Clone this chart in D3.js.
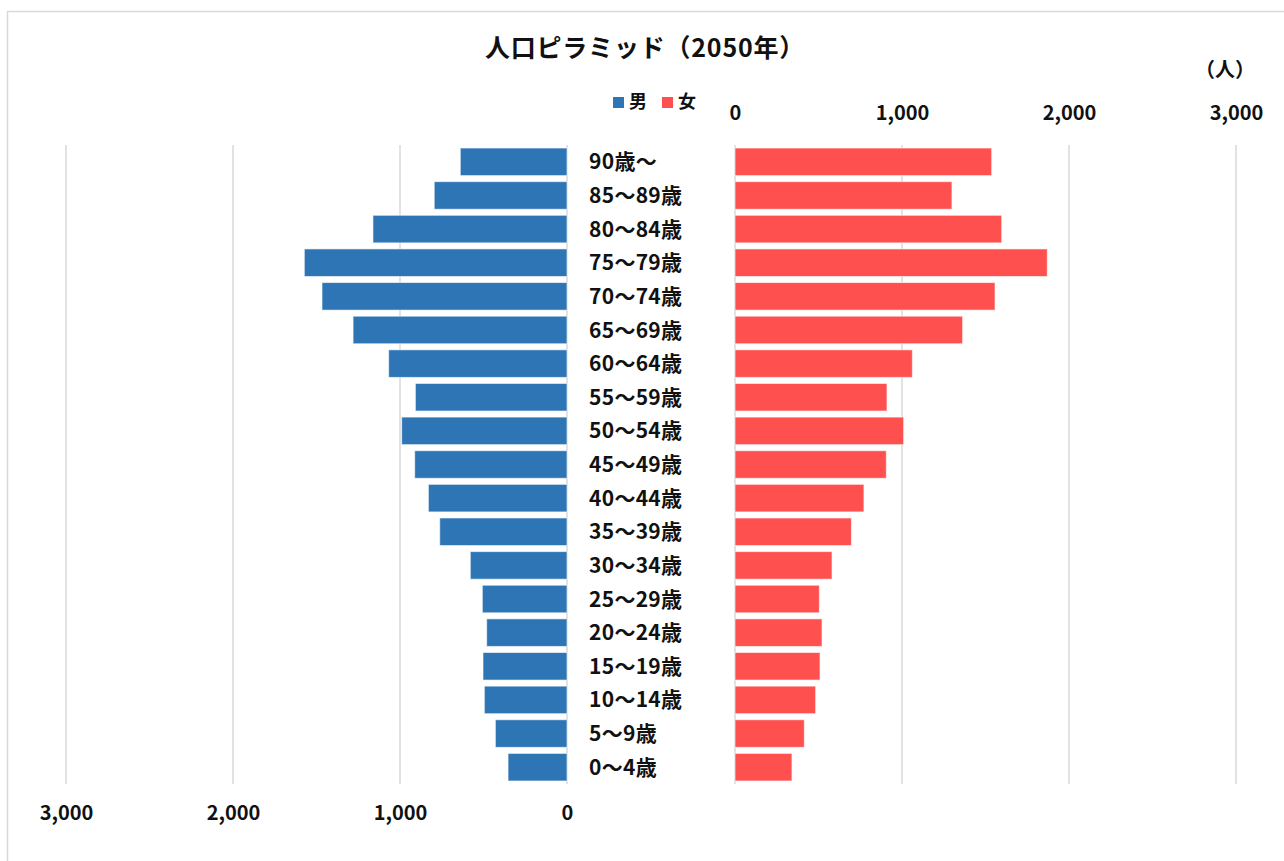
<!DOCTYPE html>
<html lang="ja">
<head>
<meta charset="utf-8">
<title>人口ピラミッド（2050年）</title>
<script src="https://cdn.jsdelivr.net/npm/d3@7"></script>
<style>
  html, body { margin: 0; padding: 0; background: #fff; }
  svg { display: block; }
  text { font-family: "Noto Sans CJK JP", "Noto Sans", sans-serif; font-weight: bold; fill: #111; }
</style>
</head>
<body>
<svg id="chart" width="1284" height="861"></svg>
<script>
// Age groups, top row first
const ageGroups = [
  "90歳～", "85～89歳", "80～84歳", "75～79歳", "70～74歳", "65～69歳",
  "60～64歳", "55～59歳", "50～54歳", "45～49歳", "40～44歳", "35～39歳",
  "30～34歳", "25～29歳", "20～24歳", "15～19歳", "10～14歳", "5～9歳", "0～4歳"
];
// Population (人) per age group
const male = [
  639, 795, 1162, 1573, 1467, 1281, 1068, 908, 990, 912,
  830, 762, 579, 507, 481, 503, 495, 429, 353
];
const female = [
  1537, 1299, 1597, 1870, 1557, 1363, 1062, 910, 1010, 906,
  772, 697, 581, 505, 521, 509, 483, 415, 341
];
const tickValues = [0, 1000, 2000, 3000];
const seriesNames = ["男", "女"];
const colors = { male: "#2E75B6", female: "#FF5050" };

const svg = d3.select("#chart");

// Chart frame
svg.append("rect")
  .attr("x", 7.5).attr("y", 11.5)
  .attr("width", 1300).attr("height", 900)
  .attr("fill", "none").attr("stroke", "#d9d9d9").attr("stroke-width", 1.5);

// Scales
const xLeft = d3.scaleLinear().domain([0, 3000]).range([567, 66]);
const xRight = d3.scaleLinear().domain([0, 3000]).range([735, 1236]);
const y = d3.scaleBand().domain(ageGroups).range([145, 784])
  .paddingInner(0.18).paddingOuter(0.09);

// Vertical gridlines
const grid = svg.append("g").attr("stroke", "#d9d9d9").attr("stroke-width", 1.5);
grid.selectAll("line.l").data(tickValues).join("line")
  .attr("x1", d => xLeft(d)).attr("x2", d => xLeft(d))
  .attr("y1", 145).attr("y2", 784);
grid.selectAll("line.r").data(tickValues).join("line")
  .attr("x1", d => xRight(d)).attr("x2", d => xRight(d))
  .attr("y1", 145).attr("y2", 784);

// Bars
svg.append("g").selectAll("rect").data(male).join("rect")
  .attr("x", d => xLeft(d))
  .attr("y", (d, i) => y(ageGroups[i]))
  .attr("width", d => xLeft(0) - xLeft(d))
  .attr("height", y.bandwidth())
  .attr("fill", colors.male)
  .attr("stroke", "#ffffff").attr("stroke-opacity", 0.6).attr("stroke-width", 1);

svg.append("g").selectAll("rect").data(female).join("rect")
  .attr("x", xRight(0))
  .attr("y", (d, i) => y(ageGroups[i]))
  .attr("width", d => xRight(d) - xRight(0))
  .attr("height", y.bandwidth())
  .attr("fill", colors.female)
  .attr("stroke", "#ffffff").attr("stroke-opacity", 0.6).attr("stroke-width", 1);

// Age group labels
svg.append("g").selectAll("text").data(ageGroups).join("text")
  .attr("x", 589)
  .attr("y", d => y(d) + y.bandwidth() / 2)
  .attr("dy", "0.36em")
  .attr("font-size", 21)
  .attr("letter-spacing", 0.3)
  .text(d => d);

// Axes
const fmt = d3.format(",");
const axisLeft = svg.append("g").attr("transform", "translate(0,813)")
  .call(d3.axisBottom(xLeft).tickValues(tickValues).tickFormat(fmt).tickSize(0).tickPadding(0));
const axisRight = svg.append("g").attr("transform", "translate(0,113)")
  .call(d3.axisBottom(xRight).tickValues(tickValues).tickFormat(fmt).tickSize(0).tickPadding(0));
[axisLeft, axisRight].forEach(a => {
  a.select(".domain").remove();
  a.selectAll("text")
    .attr("y", 0).attr("dy", "0.36em")
    .attr("font-size", 20)
    .attr("font-family", null)
    .attr("fill", "#111");
});
svg.selectAll(".tick text").style("font-family", "'Noto Sans CJK JP', sans-serif").style("font-weight", "bold");

// Unit label
svg.append("text").attr("x", 1225).attr("y", 70).attr("dy", "0.36em")
  .attr("text-anchor", "middle").attr("font-size", 20).text("（人）");

// Title
svg.append("text").attr("x", 645).attr("y", 48).attr("dy", "0.36em")
  .attr("text-anchor", "middle").attr("font-size", 25).attr("letter-spacing", 0.8)
  .text("人口ピラミッド（2050年）");

// Legend
const legend = svg.append("g");
const legendItems = [
  { name: seriesNames[0], color: colors.male, x: 613 },
  { name: seriesNames[1], color: colors.female, x: 662 }
];
legendItems.forEach(item => {
  legend.append("rect").attr("x", item.x).attr("y", 97)
    .attr("width", 11).attr("height", 11).attr("fill", item.color);
  legend.append("text").attr("x", item.x + 16).attr("y", 102).attr("dy", "0.36em")
    .attr("font-size", 18).text(item.name);
});
</script>
</body>
</html>
